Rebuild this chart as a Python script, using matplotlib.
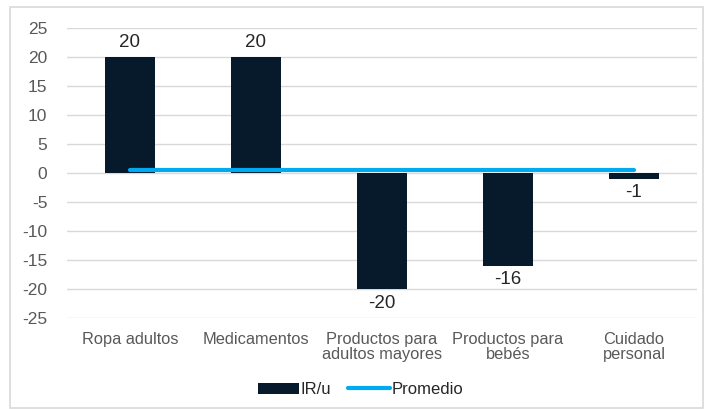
import matplotlib.pyplot as plt
from matplotlib.patches import Rectangle
import numpy as np

plt.rcParams['font.family'] = ['Liberation Sans', 'DejaVu Sans']
plt.rcParams['axes.unicode_minus'] = False

categorias = ['Ropa adultos', 'Medicamentos', 'Productos para\nadultos mayores',
              'Productos para\nbebés', 'Cuidado\npersonal']
ir_u = [20, 20, -20, -16, -1]
promedio = [0.6, 0.6, 0.6, 0.6, 0.6]
yticks = list(range(-25, 30, 5))

color_barra = '#061a2b'
color_linea = '#00aaf0'
gris = '#595959'

fig = plt.figure(figsize=(7.04, 4.09), dpi=100)
fig.patches.append(Rectangle((10 / 704, 1 / 409), 693 / 704, 401 / 409,
                             transform=fig.transFigure, fill=False,
                             edgecolor='#d9d9d9', linewidth=1.2))
ax = fig.add_axes([0.095, 0.2225, 0.895, 0.709])

x = np.arange(len(categorias))
ax.bar(x, ir_u, width=0.4, color=color_barra, label='IR/u', zorder=2)
ax.plot(x, promedio, color=color_linea, linewidth=3, label='Promedio',
        solid_capstyle='round', zorder=3)

for xi, v in zip(x, ir_u):
    off = 4 if v >= 0 else -4
    ax.annotate(f'{v}', (xi, v), xytext=(0, off), textcoords='offset points',
                ha='center', va='bottom' if v >= 0 else 'top',
                fontsize=13.5, color='#262626')

ax.set_xlim(-0.5, len(categorias) - 0.5)
ax.set_ylim(-25, 25)
ax.set_yticks(yticks)
ax.set_xticks(x)
ax.set_xticklabels(categorias, fontsize=11.8, color=gris, linespacing=1.0)
ax.tick_params(axis='y', labelsize=12.5, colors=gris, length=0, pad=14)
ax.tick_params(axis='x', length=0, pad=10)
ax.grid(axis='y', color='#d9d9d9', linewidth=1, zorder=0)
for s in ax.spines.values():
    s.set_visible(False)

handles, labels = ax.get_legend_handles_labels()
orden = [labels.index('IR/u'), labels.index('Promedio')]
fig.legend([handles[i] for i in orden], [labels[i] for i in orden],
           loc='lower center', bbox_to_anchor=(0.512, -0.008), ncol=2,
           frameon=False, fontsize=12, handlelength=2.5, handletextpad=0.1,
           columnspacing=1.0, labelcolor='#262626')

fig.savefig('out.png', dpi=100)
